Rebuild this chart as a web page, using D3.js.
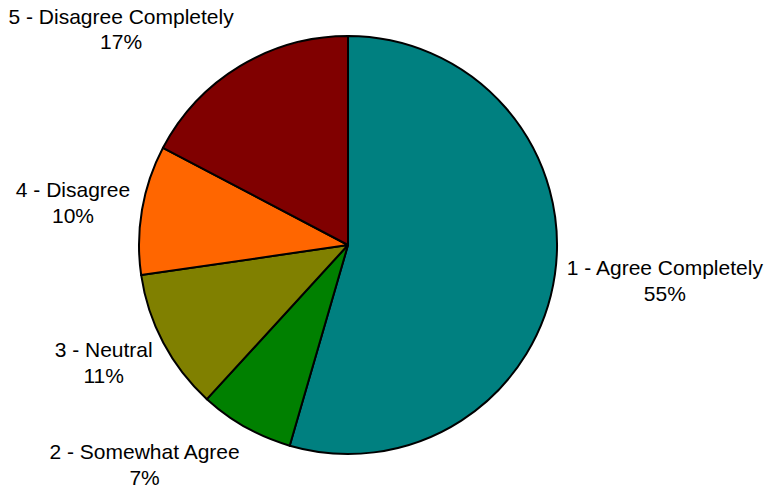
<!DOCTYPE html>
<html>
<head>
<meta charset="utf-8">
<script src="https://cdn.jsdelivr.net/npm/d3@7"></script>
<style>
html,body{margin:0;padding:0;background:#fff;}
svg{display:block;}
text{font-family:"Liberation Sans", Arial, Helvetica, sans-serif;font-size:21px;fill:#000;}
</style>
</head>
<body>
<svg id="chart" width="765" height="491"></svg>
<script>
const categories = ["1 - Agree Completely", "2 - Somewhat Agree", "3 - Neutral", "4 - Disagree", "5 - Disagree Completely"];
const values = [54.5, 7.3, 10.9, 10.0, 17.3];
const pctLabels = ["55%", "7%", "11%", "10%", "17%"];
const colors = ["#008080", "#008000", "#808000", "#ff6600", "#800000"];

const W = 765, H = 491;
const cx = 348, cy = 245, r = 209;
const labelR = 221, vShift = 31;
const lineGap = 25.6;

const svg = d3.select("#chart");
const g = svg.append("g").attr("transform", `translate(${cx},${cy})`);

const pie = d3.pie().sort(null).value(d => d.v);
const data = categories.map((c, i) => ({ c, v: values[i], p: pctLabels[i], col: colors[i] }));
const arcs = pie(data);
const arc = d3.arc().innerRadius(0).outerRadius(r);

g.selectAll("path.slice").data(arcs).enter().append("path")
  .attr("class", "slice")
  .attr("d", arc)
  .attr("fill", d => d.data.col)
  .attr("stroke", "#000")
  .attr("stroke-width", 2)
  .attr("stroke-linejoin", "round");

arcs.forEach(d => {
  const a = (d.startAngle + d.endAngle) / 2;
  const ux = Math.sin(a), uy = -Math.cos(a);
  const x = labelR * ux;
  const yc = labelR * uy + vShift * uy;
  const right = ux >= 0;
  const lg = g.append("g");
  const t1 = lg.append("text")
    .attr("x", x).attr("y", yc - 5.5)
    .attr("text-anchor", right ? "start" : "end")
    .text(d.data.c);
  const w1 = t1.node().getComputedTextLength();
  lg.append("text")
    .attr("x", right ? x + w1 / 2 : x - w1 / 2)
    .attr("y", yc - 5.5 + lineGap)
    .attr("text-anchor", "middle")
    .text(d.data.p);
});
</script>
</body>
</html>
